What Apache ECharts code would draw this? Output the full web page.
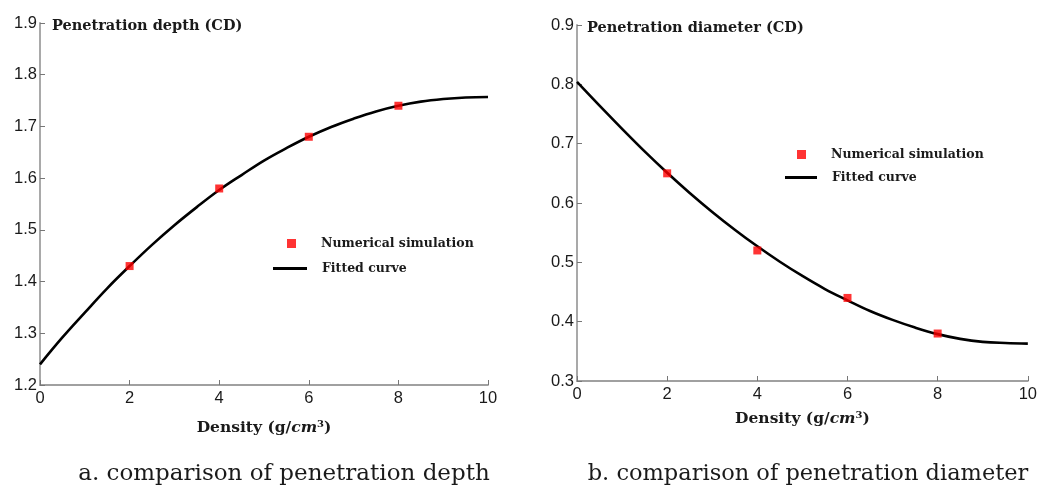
<!DOCTYPE html>
<html><head><meta charset="utf-8">
<script src="https://cdn.jsdelivr.net/npm/echarts@6/dist/echarts.min.js"></script>
<style>html,body{margin:0;padding:0;background:#fff;}#c{width:1040px;height:488px;}</style>
</head><body><div id="c"></div>
<script>
// Panel a: penetration depth
const depthSimX = [2, 4, 6, 8];
const depthSimY = [1.43, 1.58, 1.68, 1.74];
const depthFitX = [0,0.5,1,1.5,2,2.5,3,3.5,4,4.5,5,5.5,6,6.5,7,7.5,8,8.5,9,9.5,10];
const depthFitY = [1.240,1.292,1.340,1.387,1.430,1.471,1.509,1.544,1.577,1.606,1.634,1.658,1.680,1.699,1.715,1.729,1.740,1.748,1.753,1.756,1.757];
// Panel b: penetration diameter
const diamSimX = [2, 4, 6, 8];
const diamSimY = [0.65, 0.52, 0.44, 0.38];
const diamFitX = [0,0.5,1,1.5,2,2.5,3,3.5,4,4.5,5,5.5,6,6.5,7,7.5,8,8.5,9,9.5,10];
const diamFitY = [0.804,0.764,0.725,0.687,0.651,0.617,0.585,0.555,0.527,0.501,0.477,0.455,0.436,0.418,0.403,0.390,0.379,0.371,0.366,0.364,0.363];
const xTicks = [0,2,4,6,8,10];
const depthTicks = [1.2,1.3,1.4,1.5,1.6,1.7,1.8,1.9];
const diamTicks = [0.3,0.4,0.5,0.6,0.7,0.8,0.9];

const zip = (a,b)=>a.map((v,i)=>[v,b[i]]);
const serif = '"DejaVu Serif","Liberation Serif",serif';
const sans = '"Liberation Sans",Arial,sans-serif';
const axisCol = '#a0a0a0';
const txt = '#1a1a1a';

function xAx(idx, gap){
  return {
    type:'value', gridIndex:idx, min:xTicks[0], max:xTicks[xTicks.length-1], interval:2,
    axisLine:{show:true, onZero:false, lineStyle:{color:axisCol, width:1.8}},
    axisTick:{show:true, inside:true, length:5, lineStyle:{color:'#777'}},
    splitLine:{show:false},
    axisLabel:{color:txt, fontFamily:sans, fontSize:16.5, margin:5},
    name:'{a|Density (g/}{b|cm}{c|3}{a|)}', nameLocation:'middle', nameGap:gap,
    nameTextStyle:{rich:{
      a:{fontFamily:serif, fontWeight:'bold', fontSize:15.5, color:txt},
      b:{fontFamily:serif, fontWeight:'bold', fontStyle:'italic', fontSize:15.5, color:txt},
      c:{fontFamily:serif, fontWeight:'bold', fontSize:10, color:txt, verticalAlign:'top', padding:[0,0,7,0]}
    }}
  };
}
function yAx(idx, ticks){
  return {
    type:'value', gridIndex:idx, min:ticks[0], max:ticks[ticks.length-1], interval:0.1,
    axisLine:{show:true, onZero:false, lineStyle:{color:axisCol, width:1.8}},
    axisTick:{show:true, inside:true, length:5, lineStyle:{color:'#777'}},
    splitLine:{show:false},
    axisLabel:{color:txt, fontFamily:sans, fontSize:16.5, margin:3, formatter:v=>v.toFixed(1)}
  };
}
function legendItem(name, left, top, w, h, icon, pad){
  return {
    data:[{name:name, icon:icon}], left:left, top:top, itemWidth:w, itemHeight:h, padding:0,
    selectedMode:false,
    textStyle:{fontFamily:serif, fontWeight:'bold', fontSize:12.5, color:txt, padding:[0,0,0,pad]}
  };
}

const option = {
  animation:false,
  backgroundColor:'#fff',
  title:[
    {text:'Penetration depth (CD)', left:52, top:19, padding:0,
     textStyle:{fontFamily:serif, fontWeight:'bold', fontSize:14.5, color:txt}},
    {text:'Penetration diameter (CD)', left:587, top:21, padding:0,
     textStyle:{fontFamily:serif, fontWeight:'bold', fontSize:14.5, color:txt}},
    {text:'a. comparison of penetration depth', left:284, top:463, textAlign:'center', padding:0,
     textStyle:{fontFamily:serif, fontWeight:'normal', fontSize:23, color:txt}},
    {text:'b. comparison of penetration diameter', left:808, top:463, textAlign:'center', padding:0,
     textStyle:{fontFamily:serif, fontWeight:'normal', fontSize:22.5, color:txt}}
  ],
  legend:[
    legendItem('Numerical simulation', 287, 237, 9, 9, 'rect', 20),
    legendItem('Fitted curve', 273, 262, 34, 3, 'rect', 10),
    legendItem('Numerical simulation', 797, 148, 9, 9, 'rect', 20),
    legendItem('Fitted curve', 785, 171, 32, 3, 'rect', 10)
  ],
  grid:[
    {left:40, right:552, top:23, bottom:103},
    {left:577, right:12, top:25, bottom:107}
  ],
  xAxis:[xAx(0,34), xAx(1,29)],
  yAxis:[yAx(0, depthTicks), yAx(1, diamTicks)],
  series:[
    {name:'Fitted curve', type:'line', xAxisIndex:0, yAxisIndex:0, data:zip(depthFitX, depthFitY),
     smooth:0.4, showSymbol:false, lineStyle:{color:'#000', width:2.6}, itemStyle:{color:'#000'}, z:2},
    {name:'Numerical simulation', type:'scatter', xAxisIndex:0, yAxisIndex:0, data:zip(depthSimX, depthSimY),
     symbol:'rect', symbolSize:8, itemStyle:{color:'#ff0000'}, z:3},
    {name:'Fitted curve', type:'line', xAxisIndex:1, yAxisIndex:1, data:zip(diamFitX, diamFitY),
     smooth:0.4, showSymbol:false, lineStyle:{color:'#000', width:2.6}, itemStyle:{color:'#000'}, z:2},
    {name:'Numerical simulation', type:'scatter', xAxisIndex:1, yAxisIndex:1, data:zip(diamSimX, diamSimY),
     symbol:'rect', symbolSize:8, itemStyle:{color:'#ff0000'}, z:3}
  ]
};
echarts.init(document.getElementById('c'), null, {renderer:'canvas'}).setOption(option);
</script></body></html>
